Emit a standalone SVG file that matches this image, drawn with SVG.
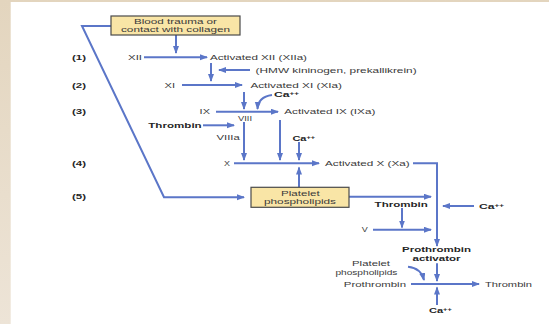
<svg xmlns="http://www.w3.org/2000/svg" width="549" height="324" viewBox="0 0 549 324">
<defs>
<linearGradient id="bg" x1="0" y1="0" x2="0" y2="1">
<stop offset="0" stop-color="#e3d5be"/>
<stop offset="1" stop-color="#ede4d7"/>
</linearGradient>
<marker id="ah" markerUnits="userSpaceOnUse" markerWidth="10" markerHeight="8" refX="7" refY="3" orient="auto">
<path d="M0,0 L8,3 L0,6 Z" fill="#5b76c8"/>
</marker>
<style>
.ar{fill:none;stroke:#5b76c8;stroke-width:2;marker-end:url(#ah)}
.t{font-family:"Liberation Sans",Arial,sans-serif;font-size:7.5px;fill:#3a3a3a}
.s{font-size:6.8px}
.b{font-family:"Liberation Sans",Arial,sans-serif;font-size:7.5px;font-weight:bold;fill:#262626}
.box{fill:#f9e5a6;stroke:#4a4a4a;stroke-width:1.2}
.sup{font-size:5px}
</style>
</defs>
<rect x="0" y="0" width="549" height="324" fill="url(#bg)"/>
<rect x="10.7" y="2" width="538.3" height="322" fill="#ffffff"/>

<g id="step-labels">
<text class="b" x="72" y="60" textLength="14" lengthAdjust="spacingAndGlyphs">(1)</text>
<text class="b" x="72" y="87.6" textLength="14" lengthAdjust="spacingAndGlyphs">(2)</text>
<text class="b" x="72" y="114.3" textLength="14" lengthAdjust="spacingAndGlyphs">(3)</text>
<text class="b" x="72" y="165.9" textLength="14" lengthAdjust="spacingAndGlyphs">(4)</text>
<text class="b" x="72" y="198.6" textLength="14" lengthAdjust="spacingAndGlyphs">(5)</text>
</g>

<g id="connectors">
<line class="ar" x1="176" y1="35" x2="176" y2="53"/>
<path class="ar" d="M111,26 H82 L164,197.3 H244"/>
<line class="ar" x1="144" y1="57.3" x2="207" y2="57.3"/>
<line class="ar" x1="211" y1="63" x2="211" y2="81"/>
<line class="ar" x1="250" y1="70" x2="219" y2="70"/>
<line class="ar" x1="182" y1="85" x2="242" y2="85"/>
<line class="ar" x1="244" y1="92" x2="244" y2="109"/>
<path class="ar" d="M272,95 Q258,97 257.5,109"/>
<line class="ar" x1="216" y1="111.7" x2="278" y2="111.7"/>
<line class="ar" x1="203" y1="125.3" x2="234" y2="125.3"/>
<line class="ar" x1="244" y1="122" x2="244" y2="160"/>
<line class="ar" x1="280" y1="120" x2="280" y2="160"/>
<line class="ar" x1="299" y1="142" x2="299" y2="160"/>
<line class="ar" x1="234" y1="163.3" x2="319" y2="163.3"/>
<line class="ar" x1="299" y1="187.3" x2="299" y2="167.5"/>
<path class="ar" d="M413,163.3 H437 V246"/>
<line class="ar" x1="349" y1="196.7" x2="431" y2="196.7"/>
<line class="ar" x1="402" y1="208" x2="402" y2="227.5"/>
<line class="ar" x1="373" y1="229.7" x2="431" y2="229.7"/>
<line class="ar" x1="474" y1="206" x2="443" y2="206"/>
<line class="ar" x1="437" y1="263.3" x2="437" y2="281"/>
<path class="ar" d="M408,266.7 Q421,268 424,280"/>
<line class="ar" x1="411" y1="284" x2="479" y2="284"/>
<line class="ar" x1="437" y1="305" x2="437" y2="287.5"/>
</g>

<g id="blood-trauma">
<rect class="box" x="111" y="16" width="129" height="19"/>
<text class="t" x="134" y="24.4" textLength="83" lengthAdjust="spacingAndGlyphs">Blood trauma or</text>
<text class="t" x="121" y="32.4" textLength="109" lengthAdjust="spacingAndGlyphs">contact with collagen</text>
</g>

<g id="xii">
<text class="t" x="128" y="59.8" textLength="14" lengthAdjust="spacingAndGlyphs">XII</text>
</g>
<g id="xiia">
<text class="t" x="210" y="59.8" textLength="97" lengthAdjust="spacingAndGlyphs">Activated XII (XIIa)</text>
</g>
<g id="hmw">
<text class="t" x="255.6" y="72.5" textLength="161" lengthAdjust="spacingAndGlyphs">(HMW kininogen, prekallikrein)</text>
</g>
<g id="xi">
<text class="t" x="164.6" y="87.5" textLength="10.5" lengthAdjust="spacingAndGlyphs">XI</text>
</g>
<g id="xia">
<text class="t" x="250.4" y="87.5" textLength="91.6" lengthAdjust="spacingAndGlyphs">Activated XI (XIa)</text>
</g>
<g id="ca1">
<text class="b" x="274" y="97" textLength="25" lengthAdjust="spacingAndGlyphs">Ca<tspan class="sup" dy="-2">++</tspan></text>
</g>
<g id="ix">
<text class="t" x="199.6" y="114.2" textLength="10.4" lengthAdjust="spacingAndGlyphs">IX</text>
</g>
<g id="ixa">
<text class="t" x="284.3" y="114.2" textLength="91" lengthAdjust="spacingAndGlyphs">Activated IX (IXa)</text>
</g>
<g id="viii">
<text class="t" x="238" y="121.2" textLength="14" lengthAdjust="spacingAndGlyphs">VIII</text>
</g>
<g id="thrombin1">
<text class="b" x="148.3" y="127.9" textLength="53.4" lengthAdjust="spacingAndGlyphs">Thrombin</text>
</g>
<g id="viiia">
<text class="t" x="216.4" y="139.6" textLength="23.4" lengthAdjust="spacingAndGlyphs">VIIIa</text>
</g>
<g id="ca2">
<text class="b" x="292.4" y="140.6" textLength="22.6" lengthAdjust="spacingAndGlyphs">Ca<tspan class="sup" dy="-2">++</tspan></text>
</g>
<g id="x">
<text class="t" x="224" y="165.9" textLength="6" lengthAdjust="spacingAndGlyphs">X</text>
</g>
<g id="xa">
<text class="t" x="325" y="165.9" textLength="84.7" lengthAdjust="spacingAndGlyphs">Activated X (Xa)</text>
</g>
<g id="platelet1">
<rect class="box" x="251" y="187.3" width="98" height="20"/>
<text class="t s" x="281" y="195.5" textLength="38.7" lengthAdjust="spacingAndGlyphs">Platelet</text>
<text class="t s" x="264" y="203.6" textLength="72" lengthAdjust="spacingAndGlyphs">phospholipids</text>
</g>
<g id="thrombin2">
<text class="b" x="374.6" y="207.3" textLength="53.3" lengthAdjust="spacingAndGlyphs">Thrombin</text>
</g>
<g id="ca3">
<text class="b" x="479" y="208.6" textLength="25" lengthAdjust="spacingAndGlyphs">Ca<tspan class="sup" dy="-2">++</tspan></text>
</g>
<g id="v">
<text class="t" x="361.7" y="232.3" textLength="6" lengthAdjust="spacingAndGlyphs">V</text>
</g>
<g id="prothrombin-activator">
<text class="b" x="402" y="252.4" textLength="69" lengthAdjust="spacingAndGlyphs">Prothrombin</text>
<text class="b" x="412.5" y="260.5" textLength="48" lengthAdjust="spacingAndGlyphs">activator</text>
</g>
<g id="platelet2">
<text class="t s" x="352" y="266.4" textLength="38" lengthAdjust="spacingAndGlyphs">Platelet</text>
<text class="t s" x="335.4" y="274.5" textLength="62" lengthAdjust="spacingAndGlyphs">phospholipids</text>
</g>
<g id="prothrombin">
<text class="t" x="343.8" y="286.6" textLength="62.2" lengthAdjust="spacingAndGlyphs">Prothrombin</text>
</g>
<g id="thrombin3">
<text class="t" x="485" y="286.6" textLength="47" lengthAdjust="spacingAndGlyphs">Thrombin</text>
</g>
<g id="ca4">
<text class="b" x="429" y="312.6" textLength="22.7" lengthAdjust="spacingAndGlyphs">Ca<tspan class="sup" dy="-2">++</tspan></text>
</g>
</svg>
